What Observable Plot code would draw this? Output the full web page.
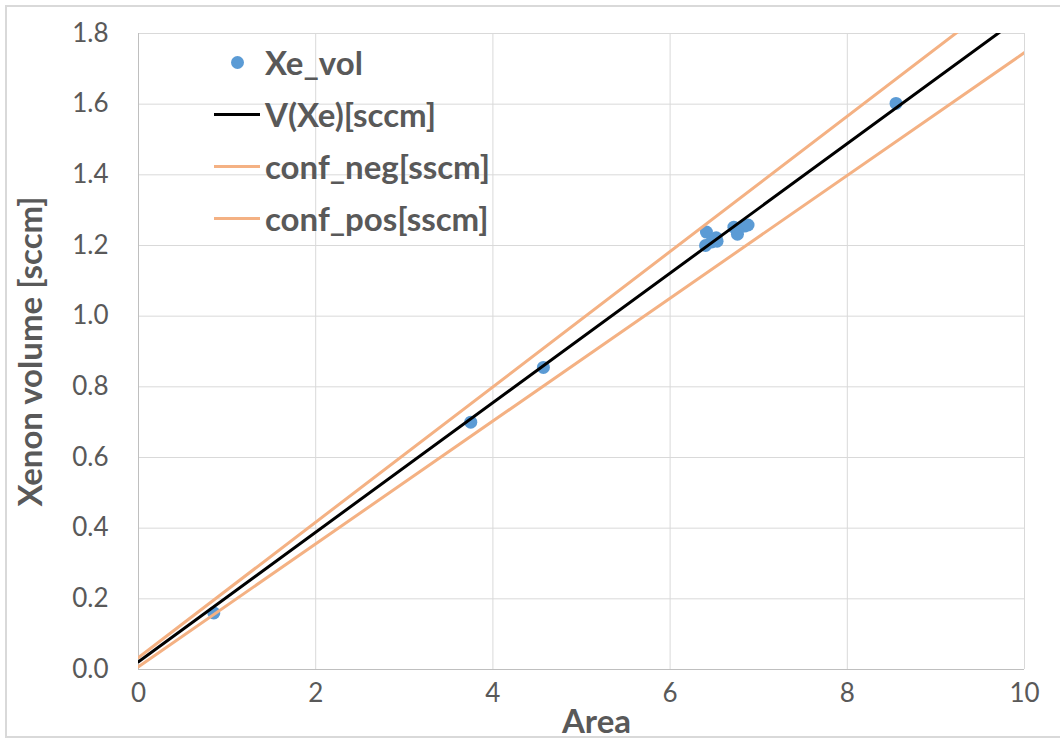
<!DOCTYPE html>
<html><head><meta charset="utf-8">
<script src="https://cdn.jsdelivr.net/npm/d3@7"></script>
<script src="https://cdn.jsdelivr.net/npm/@observablehq/plot@0.6"></script>
<style>
body{margin:0;background:#fff;}
#wrap{position:relative;width:1060px;height:746px;}
#frame{position:absolute;left:5px;top:5px;width:1060px;height:733px;border:2px solid #d9d9d9;box-sizing:border-box;pointer-events:none;}
#legend{position:absolute;left:214px;top:36px;font-family:Lato,"Open Sans",sans-serif;font-weight:bold;font-size:33px;color:#595959;line-height:52px;}
#legend div{display:flex;align-items:center;height:52px;}
#legend .sw{width:46px;height:20px;display:flex;align-items:center;justify-content:center;margin-right:5px;}
g[aria-label="x-axis label"] text, g[aria-label="y-axis label"] text{font-weight:bold;font-size:33px;}
</style></head>
<body><div id="wrap"><div id="chart"></div><div id="frame"></div><div id="legend"></div></div>
<script>
const ptArea = [0.85, 3.75, 4.57, 6.41, 6.40, 6.47, 6.53, 6.52, 6.72, 6.76, 6.84, 6.88, 8.55];
const ptVol  = [0.160, 0.700, 0.855, 1.238, 1.200, 1.210, 1.212, 1.222, 1.252, 1.232, 1.255, 1.258, 1.602];
const lineX = [0, 10];
const fitY = [0.022, 1.855];
const negY = [0.008, 1.746];
const posY = [0.034, 1.949];
const xTicks = [0, 2, 4, 6, 8, 10];
const yTicks = [0, 0.2, 0.4, 0.6, 0.8, 1.0, 1.2, 1.4, 1.6, 1.8];

const pts = ptArea.map((a,i)=>({a, v: ptVol[i]}));
const mk = ys => lineX.map((x,i)=>({x, y: ys[i]}));

const plot = Plot.plot({
  width: 1060, height: 746,
  marginLeft: 138, marginRight: 36, marginTop: 33, marginBottom: 77,
  style: {fontFamily: 'Lato, "Open Sans", sans-serif', fontSize: "26px", color: "#595959", background: "#fff"},
  x: {domain: [0, 10]},
  y: {domain: [0, 1.8]},
  marks: [
    Plot.gridX(xTicks, {stroke: "#d9d9d9", strokeOpacity: 1}),
    Plot.gridY(yTicks, {stroke: "#d9d9d9", strokeOpacity: 1}),
    Plot.ruleX([0], {stroke: "#bfbfbf"}),
    Plot.ruleY([0], {stroke: "#bfbfbf"}),
    Plot.axisX(xTicks, {tickSize: 0, tickPadding: 14, label: "Area", labelAnchor: "center", labelArrow: "none", labelOffset: 63, fill: "#595959"}),
    Plot.axisY(yTicks, {tickSize: 0, tickPadding: 30, tickFormat: d => d.toFixed(1), label: "Xenon volume [sccm]", labelAnchor: "center", labelArrow: "none", labelOffset: 120, fill: "#595959"}),
    Plot.dot(pts, {x: "a", y: "v", r: 6.5, fill: "#5b9bd5", stroke: "none"}),
    Plot.line(mk(negY), {x: "x", y: "y", stroke: "#f4b183", strokeWidth: 3, clip: true}),
    Plot.line(mk(posY), {x: "x", y: "y", stroke: "#f4b183", strokeWidth: 3, clip: true}),
    Plot.line(mk(fitY), {x: "x", y: "y", stroke: "#000", strokeWidth: 3, clip: true})
  ]
});
document.getElementById("chart").appendChild(plot);
d3.select(plot).select('g[aria-label="x-axis label"] text').attr("dx", 15);

const legendItems = [
  {label: "Xe_vol", type: "dot", color: "#5b9bd5"},
  {label: "V(Xe)[sccm]", type: "line", color: "#000"},
  {label: "conf_neg[sscm]", type: "line", color: "#f4b183"},
  {label: "conf_pos[sscm]", type: "line", color: "#f4b183"}
];
const lg = d3.select("#legend");
for (const it of legendItems) {
  const row = lg.append("div");
  const sw = row.append("span").attr("class", "sw");
  if (it.type === "dot") sw.append("span").style("width","13px").style("height","13px").style("border-radius","50%").style("background", it.color).style("display","inline-block");
  else sw.append("span").style("width","46px").style("height","3px").style("background", it.color).style("display","inline-block");
  row.append("span").text(it.label);
}
</script></body></html>
